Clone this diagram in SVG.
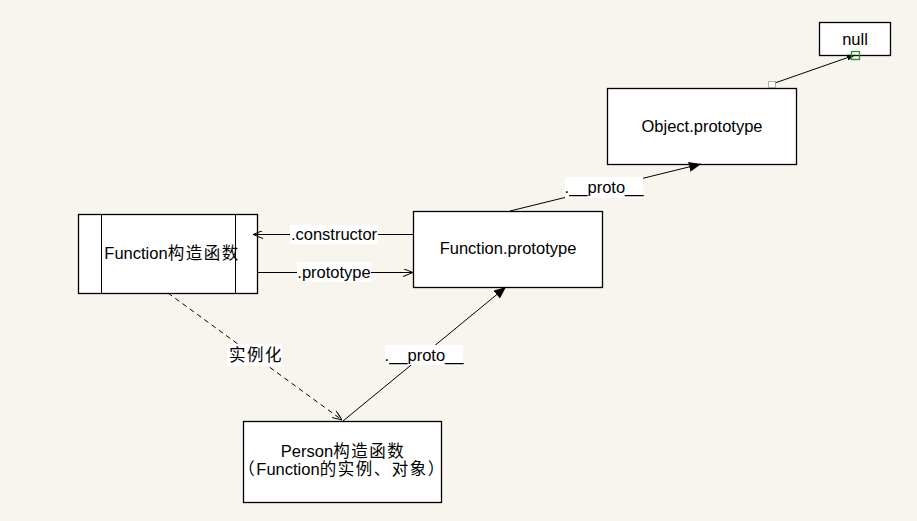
<svg xmlns="http://www.w3.org/2000/svg" width="917" height="521" viewBox="0 0 917 521">
<defs>
<style>
.box{fill:#fff;stroke:#000;stroke-width:1.3}
.t{font-family:"Liberation Sans","Noto Sans CJK SC",sans-serif;font-size:16.5px;fill:#000;text-anchor:middle}
.cj{letter-spacing:1.5px}
.ln{stroke:#000;stroke-width:1;fill:none}
.lbl{fill:#fff}
</style>
<marker id="filled" viewBox="0 0 12 10" refX="12" refY="5" markerWidth="12" markerHeight="10" markerUnits="userSpaceOnUse" orient="auto">
<path d="M0,0 L12,5 L0,10 Z" fill="#000"/>
</marker>
<marker id="open" viewBox="0 0 10 8" refX="10" refY="4" markerWidth="10" markerHeight="8" markerUnits="userSpaceOnUse" orient="auto">
<path d="M0,0 L10,4 L0,8" fill="none" stroke="#000" stroke-width="1"/>
</marker>
<marker id="smallfilled" viewBox="0 0 8 6" refX="8" refY="3" markerWidth="8" markerHeight="6" markerUnits="userSpaceOnUse" orient="auto">
<path d="M0,0 L8,3 L0,6 Z" fill="#000"/>
</marker>
</defs>
<rect x="0" y="0" width="917" height="521" fill="#f8f5ef"/>

<g id="node-null">
<rect class="box" x="819.5" y="22.5" width="71" height="33"/>
<text class="t" x="855" y="45">null</text>
</g>
<g id="node-object-prototype">
<rect class="box" x="607.5" y="88.5" width="189" height="76"/>
<text class="t" x="702" y="132">Object.prototype</text>
</g>
<g id="node-function-prototype">
<rect class="box" x="413.5" y="211.5" width="189" height="76"/>
<text class="t" x="508" y="254">Function.prototype</text>
</g>
<g id="node-function-constructor">
<rect class="box" x="78.5" y="214.5" width="179" height="79"/>
<line class="ln" x1="101.5" y1="214.5" x2="101.5" y2="293.5" stroke-width="1.3"/>
<line class="ln" x1="235.5" y1="214.5" x2="235.5" y2="293.5" stroke-width="1.3"/>
<text class="t" x="172" y="259">Function<tspan class="cj">构造函数</tspan></text>
</g>
<g id="node-person">
<rect class="box" x="243.5" y="421.5" width="198" height="81"/>
<text class="t" x="343" y="457">Person<tspan class="cj">构造函数</tspan></text>
<text class="t" x="342" y="475"><tspan class="cj">（</tspan>Function<tspan class="cj">的实例、对象）</tspan></text>
</g>

<g id="connectors">
<line class="ln" x1="772" y1="84" x2="855" y2="55" marker-end="url(#smallfilled)"/>
<rect x="768.5" y="81.5" width="7" height="6" fill="#fff" stroke="#666" stroke-width="1" stroke-dasharray="1,1"/>
<rect x="851.5" y="51.5" width="8" height="8" fill="none" stroke="#1a9a1a" stroke-width="1.3"/>

<line class="ln" x1="510" y1="211" x2="701" y2="164" marker-end="url(#filled)"/>
<rect class="lbl" x="565" y="177" width="78" height="21"/>
<text class="t" x="604" y="193">.__proto__</text>

<line class="ln" x1="413" y1="234.5" x2="253" y2="234.5" marker-end="url(#open)"/>
<rect class="lbl" x="290" y="225" width="88" height="19"/>
<text class="t" x="334" y="240">.constructor</text>

<line class="ln" x1="257" y1="272.5" x2="413" y2="272.5" marker-end="url(#open)"/>
<rect class="lbl" x="297" y="262" width="74" height="20"/>
<text class="t" x="334" y="278">.prototype</text>

<line class="ln" x1="168" y1="293" x2="342" y2="420" stroke-dasharray="5,4" marker-end="url(#open)"/>
<rect class="lbl" x="227" y="344" width="55" height="22"/>
<text class="t cj" x="256" y="361">实例化</text>

<line class="ln" x1="343" y1="421" x2="506" y2="287" marker-end="url(#filled)"/>
<rect class="lbl" x="385" y="345" width="78" height="20"/>
<text class="t" x="424" y="361">.__proto__</text>
</g>
</svg>
